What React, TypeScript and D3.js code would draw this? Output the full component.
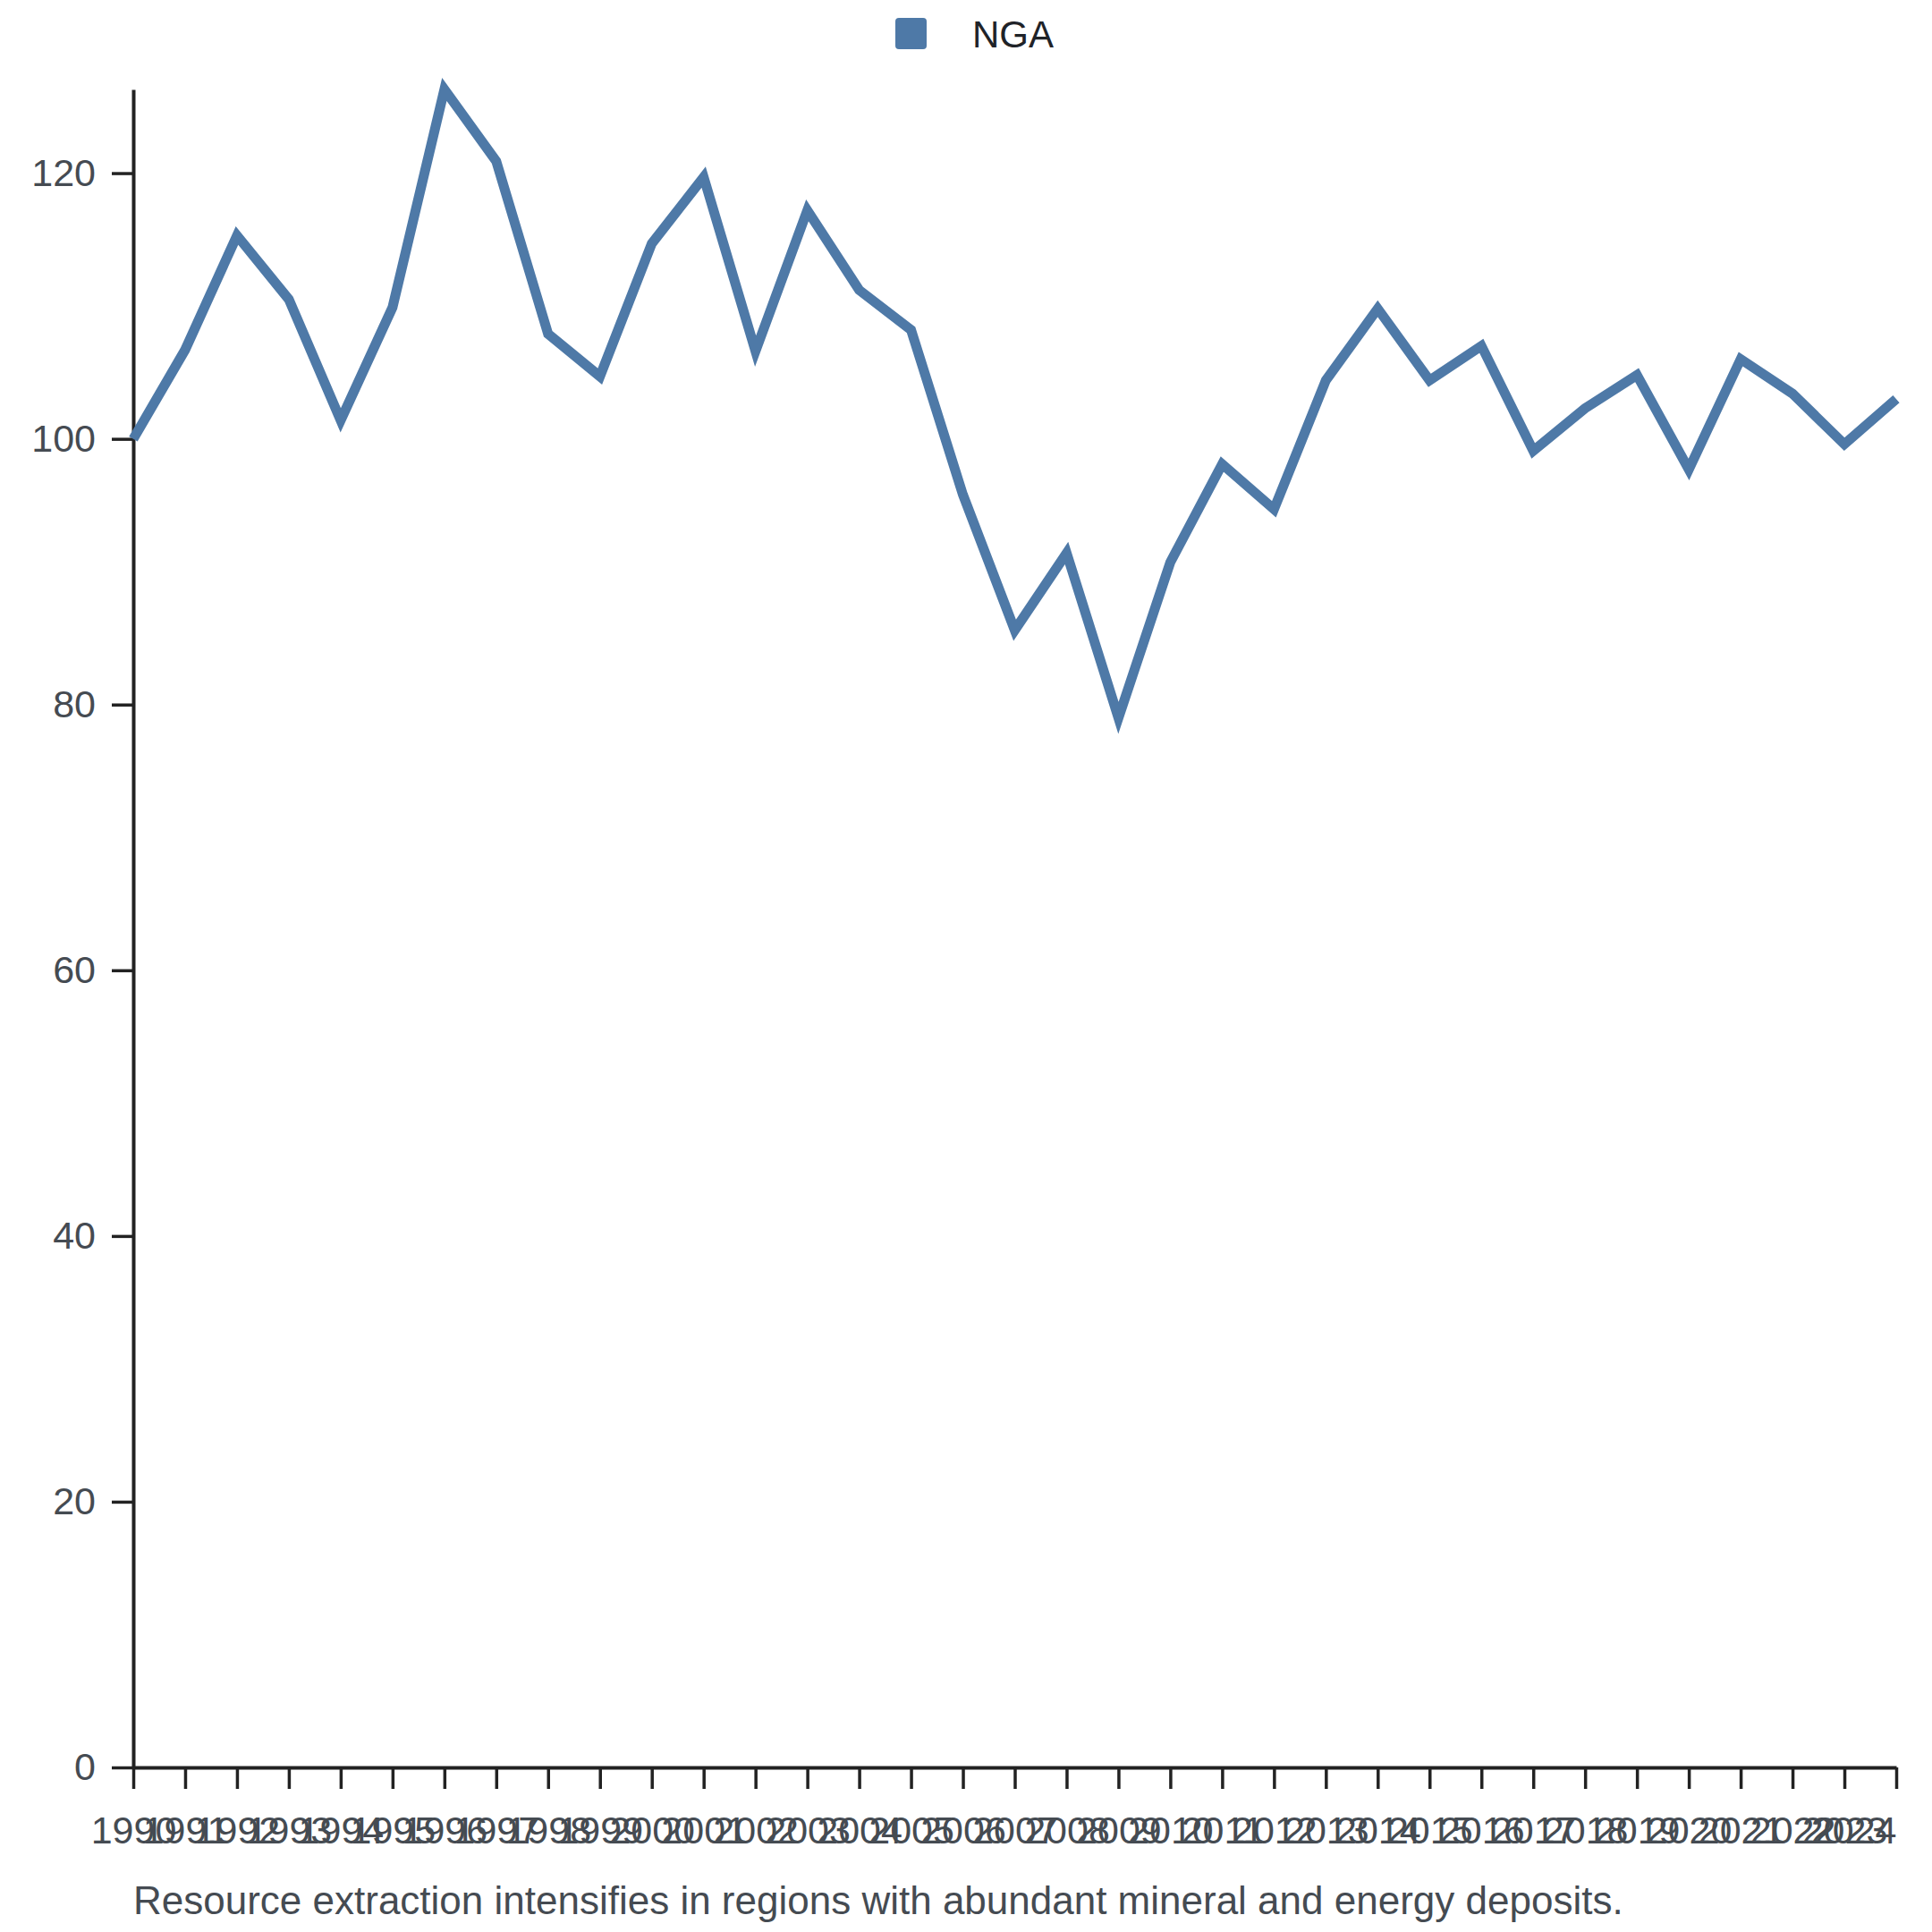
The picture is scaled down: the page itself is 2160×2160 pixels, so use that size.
import React, { useEffect, useRef } from "react";
import * as d3 from "d3";

const years: number[] = d3.range(1990, 2025);
const values: number[] = [
  100.0, 106.7, 115.3, 110.5, 101.4, 109.9, 126.3, 120.9, 107.9, 104.7,
  114.7, 119.7, 106.6, 117.2, 111.2, 108.2, 95.8, 85.6, 91.4, 79.0,
  90.7, 98.1, 94.7, 104.4, 109.8, 104.4, 107.0, 99.1, 102.3, 104.8,
  97.7, 106.0, 103.4, 99.6, 103.0,
];
const yTicks: number[] = [0, 20, 40, 60, 80, 100, 120];
const seriesName = "NGA";
const caption =
  "Resource extraction intensifies in regions with abundant mineral and energy deposits.";

const W = 2160;
const H = 2160;
const FONT = "'Liberation Sans', Arial, sans-serif";

const LineChart: React.FC = () => {
  const ref = useRef<SVGSVGElement | null>(null);

  useEffect(() => {
    document.body.style.margin = "0";
    const svg = d3.select(ref.current);
    svg.selectAll("*").remove();

    const margin = { top: 100, right: 40, bottom: 184, left: 149 };
    const width = W - margin.left - margin.right;
    const height = H - margin.top - margin.bottom;

    const g = svg
      .append("g")
      .attr("transform", `translate(${margin.left},${margin.top})`);

    const x = d3.scalePoint<number>().domain(years).range([0, width]);

    const y = d3
      .scaleLinear()
      .domain([0, d3.max(values)!])
      .range([height, 0]);

    // X axis
    const xAxis = g
      .append("g")
      .attr("transform", `translate(0,${height})`)
      .call(d3.axisBottom(x).tickSize(24).tickPadding(30).tickSizeOuter(0));
    xAxis.select(".domain").attr("stroke", "#222").attr("stroke-width", 4);
    xAxis.selectAll(".tick line").attr("stroke", "#222").attr("stroke-width", 3.5);
    xAxis
      .selectAll<SVGTextElement, number>("text")
      .attr("fill", "#454b52")
      .style("font-size", "43px")
      .style("font-family", FONT)
      // last label sits inside the plot edge
      .attr("text-anchor", (d) => (d === years[years.length - 1] ? "end" : "middle"));

    // Y axis
    const yAxis = g
      .append("g")
      .call(
        d3.axisLeft(y).tickValues(yTicks).tickSize(24).tickPadding(18).tickSizeOuter(0)
      );
    yAxis.select(".domain").attr("stroke", "#222").attr("stroke-width", 4);
    yAxis.selectAll(".tick line").attr("stroke", "#222").attr("stroke-width", 3.5);
    yAxis
      .selectAll("text")
      .attr("fill", "#454b52")
      .style("font-size", "43px")
      .style("font-family", FONT);

    // Line
    const line = d3
      .line<number>()
      .x((_, i) => x(years[i])!)
      .y((d) => y(d));

    g.append("path")
      .datum(values)
      .attr("fill", "none")
      .attr("stroke", "#4e79a7")
      .attr("stroke-width", 11)
      .attr("d", line);

    // Legend
    const legend = svg.append("g").attr("transform", "translate(1001,20)");
    legend
      .append("rect")
      .attr("width", 35)
      .attr("height", 35)
      .attr("rx", 4)
      .attr("fill", "#4e79a7");
    legend
      .append("text")
      .attr("x", 86)
      .attr("y", 33)
      .attr("fill", "#1f2328")
      .style("font-size", "42px")
      .style("font-family", FONT)
      .text(seriesName);

    // Caption
    svg
      .append("text")
      .attr("x", margin.left)
      .attr("y", 2140)
      .attr("fill", "#454b52")
      .style("font-size", "44px")
      .style("font-family", FONT)
      .text(caption);
  }, []);

  return (
    <svg
      ref={ref}
      width={W}
      height={H}
      viewBox={`0 0 ${W} ${H}`}
      style={{ display: "block", background: "#fff" }}
    />
  );
};

export default function App() {
  return <LineChart />;
}
